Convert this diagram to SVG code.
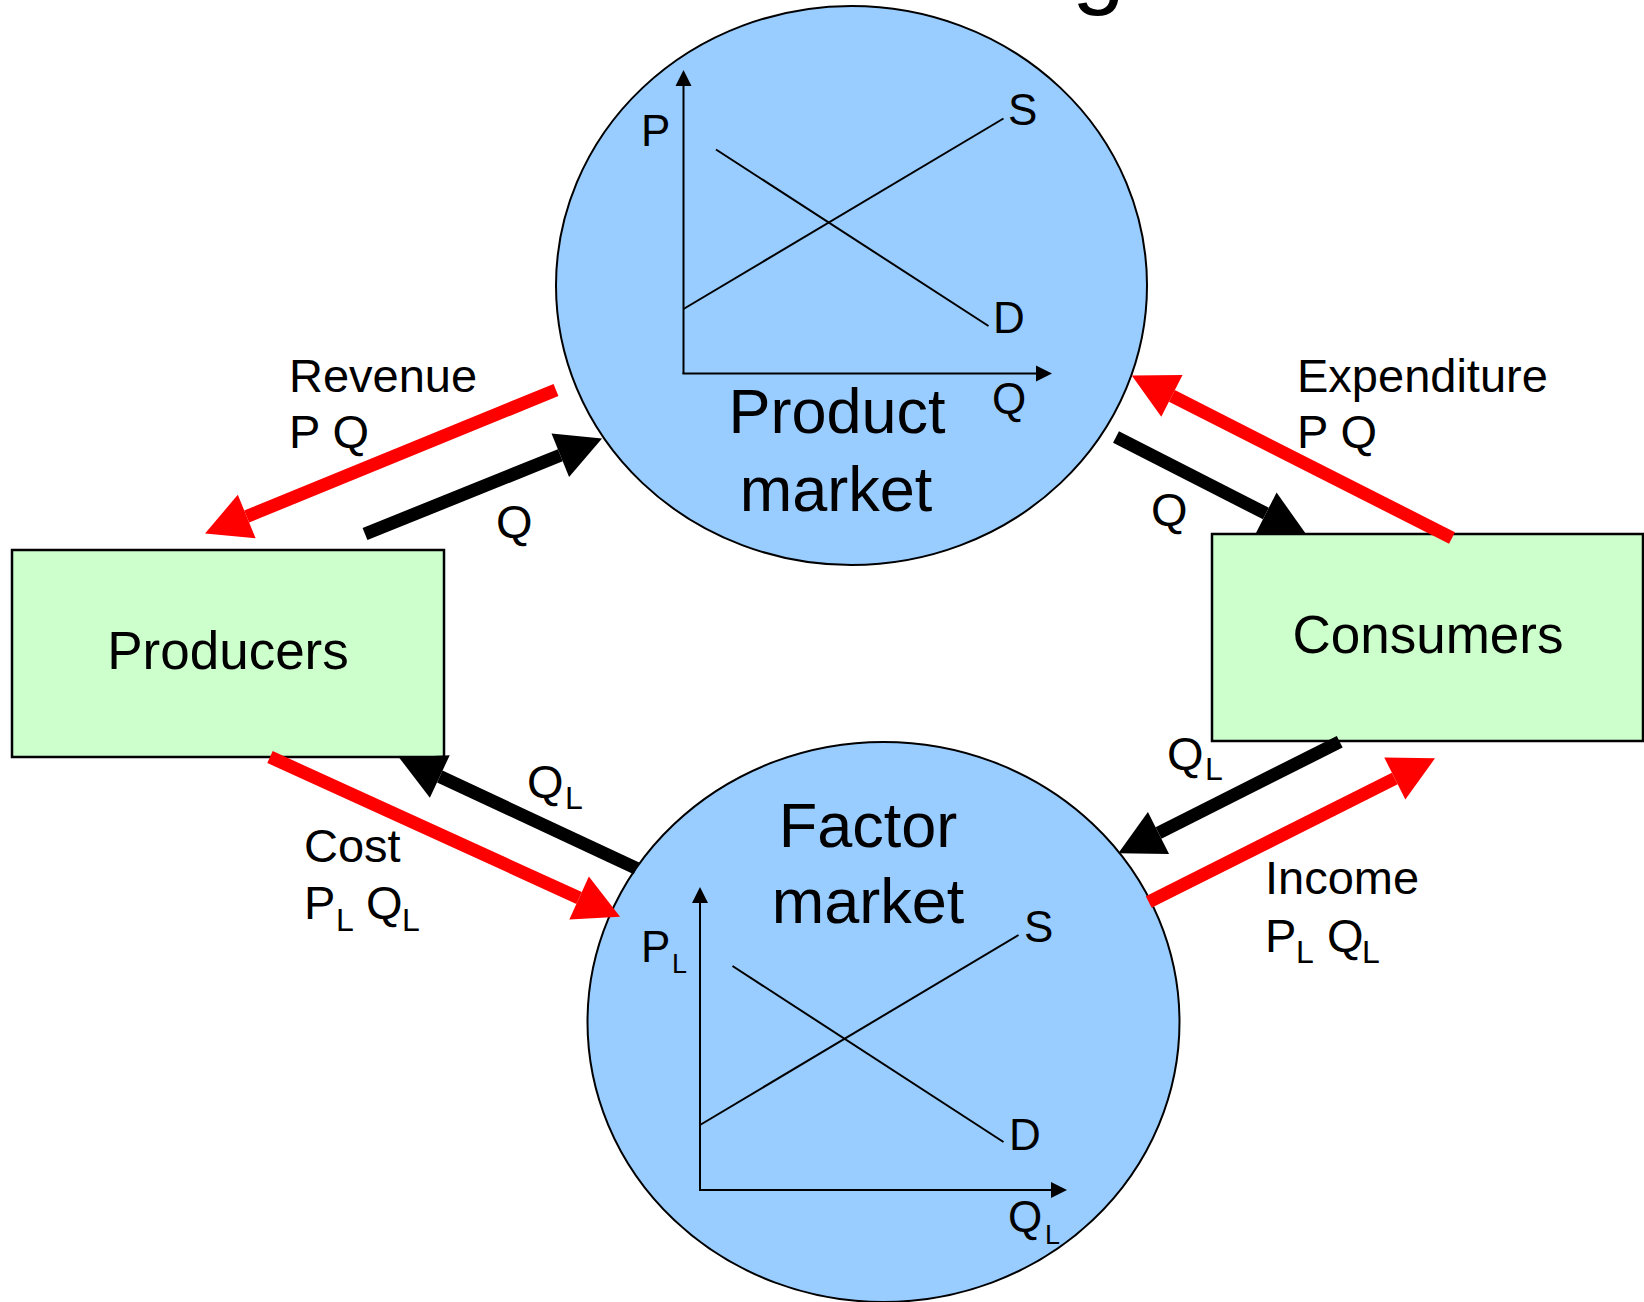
<svg xmlns="http://www.w3.org/2000/svg" width="1644" height="1302" viewBox="0 0 1644 1302">
  <style>
    text { font-family: "Liberation Sans", Arial, Helvetica, sans-serif; fill: #000; }
    .market { fill: #99CCFF; stroke: #000; stroke-width: 2; }
    .agent { fill: #CCFFCC; stroke: #000; stroke-width: 2.5; }
    .axis { stroke: #000; stroke-width: 2; fill: none; }
    .curve { stroke: #000; stroke-width: 2; fill: none; }
    .flow-goods { stroke: #000; stroke-width: 13; fill: none; marker-end: url(#head-black); }
    .flow-money { stroke: #FF0000; stroke-width: 13; fill: none; marker-end: url(#head-red); }
    .big { font-size: 63px; text-anchor: middle; }
    .box { font-size: 53px; text-anchor: middle; }
    .lbl { font-size: 47px; }
    .sub { font-size: 32px; }
    .gl { font-size: 44px; }
    .gsub { font-size: 27px; }
  </style>
  <defs>
    <marker id="head-black" markerUnits="userSpaceOnUse" markerWidth="46" markerHeight="47" viewBox="0 -23.5 45 47" refX="0" refY="0" orient="auto" overflow="visible">
      <path d="M0,-23.5 L45,0 L0,23.5 Z" fill="#000"/>
    </marker>
    <marker id="head-red" markerUnits="userSpaceOnUse" markerWidth="46" markerHeight="47" viewBox="0 -23.5 45 47" refX="0" refY="0" orient="auto" overflow="visible">
      <path d="M0,-23.5 L45,0 L0,23.5 Z" fill="#FF0000"/>
    </marker>
    <marker id="axis-head" markerUnits="userSpaceOnUse" markerWidth="16" markerHeight="16" viewBox="0 -8 16 16" refX="0" refY="0" orient="auto" overflow="visible">
      <path d="M0,-8 L16,0 L0,8 Z" fill="#000"/>
    </marker>
  </defs>

  <!-- descender of the title, which runs off the top edge -->
  <text x="1072" y="-4" style="font-size:95px">g</text>

  <!-- Product market -->
  <g id="product-market">
    <ellipse class="market" cx="851.5" cy="285.5" rx="295.5" ry="279.5"/>
    <line class="axis" x1="683.5" y1="374" x2="683.5" y2="86" marker-end="url(#axis-head)"/>
    <line class="axis" x1="682.5" y1="373.5" x2="1036" y2="373.5" marker-end="url(#axis-head)"/>
    <line class="curve" x1="683.5" y1="309" x2="1003.5" y2="118.5"/>
    <line class="curve" x1="716" y1="149.5" x2="988.5" y2="326"/>
    <text class="gl" x="641" y="146">P</text>
    <text class="gl" x="1008" y="125">S</text>
    <text class="gl" x="993" y="333">D</text>
    <text class="gl" x="992" y="414">Q</text>
    <text class="big" x="837" y="433">Product</text>
    <text class="big" x="836" y="511">market</text>
  </g>

  <!-- Factor market -->
  <g id="factor-market">
    <ellipse class="market" cx="883.5" cy="1022" rx="296" ry="280"/>
    <line class="axis" x1="700" y1="1191" x2="700" y2="903" marker-end="url(#axis-head)"/>
    <line class="axis" x1="699" y1="1190" x2="1051" y2="1190" marker-end="url(#axis-head)"/>
    <line class="curve" x1="700" y1="1125" x2="1018.5" y2="935"/>
    <line class="curve" x1="732.5" y1="966" x2="1003.5" y2="1142"/>
    <text class="gl" x="641" y="962">P<tspan class="gsub" x="672" y="973">L</tspan></text>
    <text class="gl" x="1024" y="942">S</text>
    <text class="gl" x="1009" y="1150">D</text>
    <text class="gl" x="1008" y="1232">Q<tspan class="gsub" x="1045" y="1244">L</tspan></text>
    <text class="big" x="868" y="847">Factor</text>
    <text class="big" x="868" y="923">market</text>
  </g>

  <!-- Producers -->
  <g id="producers">
    <rect class="agent" x="12" y="550" width="432" height="207"/>
    <text class="box" x="228" y="669">Producers</text>
  </g>

  <!-- Consumers -->
  <g id="consumers">
    <rect class="agent" x="1212" y="534" width="431" height="207"/>
    <text class="box" x="1428" y="653">Consumers</text>
  </g>

  <!-- Flows: black = goods / factors, red = money -->
  <g id="connectors">
    <line class="flow-money" x1="556" y1="390" x2="246.7" y2="516.5"/>
    <line class="flow-goods" x1="365" y1="534" x2="560.3" y2="455.3"/>
    <line class="flow-goods" x1="1116" y1="437" x2="1265.9" y2="513.5"/>
    <line class="flow-money" x1="1452" y1="538" x2="1171.9" y2="395.9"/>
    <line class="flow-goods" x1="636.5" y1="868.3" x2="439.8" y2="776.5"/>
    <line class="flow-money" x1="270" y1="757" x2="579.1" y2="898"/>
    <line class="flow-goods" x1="1339.7" y1="741.7" x2="1158.5" y2="833"/>
    <line class="flow-money" x1="1148.7" y1="902" x2="1394.8" y2="778.5"/>
  </g>

  <!-- Flow labels -->
  <g id="flow-labels">
    <text class="lbl" x="289" y="392">Revenue</text>
    <text class="lbl" x="289" y="448">P Q</text>
    <text class="lbl" x="496" y="538">Q</text>
    <text class="lbl" x="1297" y="392">Expenditure</text>
    <text class="lbl" x="1297" y="448">P Q</text>
    <text class="lbl" x="1151" y="526">Q</text>
    <text class="lbl" x="304" y="862">Cost</text>
    <text class="lbl" x="304" y="919">P<tspan class="sub" x="336" y="931">L</tspan><tspan x="366" y="919">Q</tspan><tspan class="sub" x="402" y="931">L</tspan></text>
    <text class="lbl" x="527" y="798">Q<tspan class="sub" x="565" y="809">L</tspan></text>
    <text class="lbl" x="1167" y="770">Q<tspan class="sub" x="1205" y="780">L</tspan></text>
    <text class="lbl" x="1265" y="894">Income</text>
    <text class="lbl" x="1265" y="952">P<tspan class="sub" x="1296" y="963">L</tspan><tspan x="1327" y="952">Q</tspan><tspan class="sub" x="1362" y="963">L</tspan></text>
  </g>
</svg>
